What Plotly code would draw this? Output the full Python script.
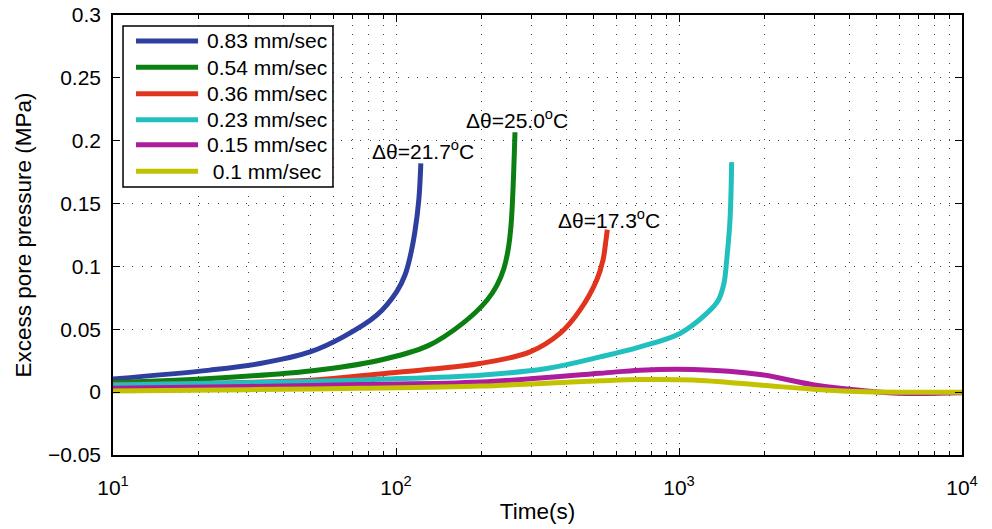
import math
import plotly.graph_objects as go

# ---- data ----
series_names = ["0.83 mm/sec", "0.54 mm/sec", "0.36 mm/sec", "0.23 mm/sec", "0.15 mm/sec", "\u00a00.1 mm/sec"]
series_colors = ["#2f3f9f", "#0b7f12", "#e0341f", "#22bfbf", "#ad1c9c", "#c2c200"]

t_083 = [10, 22, 33.1, 49.7, 65.1, 85.5, 100.6, 107.5, 112, 116.5, 120.4, 122.4]
p_083 = [0.0105, 0.0175, 0.0228, 0.032, 0.044, 0.0612, 0.080, 0.093, 0.107, 0.127, 0.153, 0.182]

t_054 = [10, 22, 49.7, 86, 130, 172.5, 209.7, 227.5, 240.7, 248.8, 255, 259, 263.3]
p_054 = [0.0077, 0.0109, 0.0169, 0.025, 0.037, 0.0549, 0.0731, 0.0851, 0.0986, 0.1129, 0.1328, 0.1606, 0.2067]

t_036 = [10, 49.7, 87.8, 128.4, 198, 297.5, 379.7, 446.7, 511.6, 538.8, 552, 558]
p_036 = [0.0062, 0.0095, 0.0145, 0.018, 0.0228, 0.032, 0.0467, 0.0652, 0.089, 0.105, 0.121, 0.1293]

t_023 = [10, 40, 88, 198, 340.6, 525.8, 727.8, 1008, 1253, 1377, 1442, 1474, 1514, 1535]
p_023 = [0.0056, 0.008, 0.0102, 0.0135, 0.0188, 0.028, 0.036, 0.0467, 0.0626, 0.0731, 0.0867, 0.105, 0.1367, 0.183]

t_015 = [10, 30, 75, 200, 525, 728, 1120, 1932, 2970, 4610, 6400, 10000]
p_015 = [0.003, 0.0045, 0.006, 0.008, 0.015, 0.0175, 0.018, 0.014, 0.006, 0.001, -0.001, -0.0005]

t_010 = [10, 30, 75, 200, 525, 728, 1120, 1932, 2970, 4610, 10000]
p_010 = [0.001, 0.002, 0.003, 0.0048, 0.009, 0.010, 0.0096, 0.0056, 0.0024, 0.0003, 0.0]

all_t = [t_083, t_054, t_036, t_023, t_015, t_010]
all_p = [p_083, p_054, p_036, p_023, p_015, p_010]

label_texts = ["Δθ=21.7<sup>o</sup>C", "Δθ=25.0<sup>o</sup>C", "Δθ=17.3<sup>o</sup>C"]
label_t = [124.5, 268.5, 568]
label_p = [0.193, 0.217, 0.138]

x_tickvals = [10, 100, 1000, 10000]
x_ticktext = ["10<sup>1</sup>", "10<sup>2</sup>", "10<sup>3</sup>", "10<sup>4</sup>"]
x_minorvals = [m * 10 ** k for k in (1, 2, 3) for m in range(2, 10)]
y_tickvals = [-0.05, 0, 0.05, 0.1, 0.15, 0.2, 0.25, 0.3]
y_ticktext = ["−0.05", "0", "0.05", "0.1", "0.15", "0.2", "0.25", "0.3"]

FONT = "Liberation Sans, Arial, Helvetica, sans-serif"
GRID_DASH = "1px,8.5px"
GRID_COLOR = "#444444"

fig = go.Figure()
for name, col, tt, pp in zip(series_names, series_colors, all_t, all_p):
    fig.add_trace(go.Scatter(x=tt, y=pp, mode="lines", name=name, showlegend=False,
                             line=dict(color=col, width=5, shape="spline", smoothing=1.0)))

for txt, tx, py in zip(label_texts, label_t, label_p):
    fig.add_annotation(x=math.log10(tx), y=py, xref="x", yref="y", text=txt, showarrow=False,
                       font=dict(size=21, color="black", family=FONT), xanchor="center", yanchor="middle")

# ---- legend box (MATLAB style, placed in paper coordinates) ----
leg_x0, leg_x1, leg_y0, leg_y1 = 0.0118, 0.2591, 0.6091, 0.975
leg_line_x0, leg_line_x1, leg_text_x = 0.0271, 0.1002, 0.1085
leg_row_y = [0.941, 0.881, 0.821, 0.762, 0.705, 0.645]
fig.add_shape(type="rect", xref="paper", yref="paper", x0=leg_x0, x1=leg_x1, y0=leg_y0, y1=leg_y1,
              line=dict(color="black", width=1.5), fillcolor="white", layer="above")
for name, col, ry in zip(series_names, series_colors, leg_row_y):
    fig.add_shape(type="line", xref="paper", yref="paper", x0=leg_line_x0, x1=leg_line_x1, y0=ry, y1=ry,
                  line=dict(color=col, width=5), layer="above")
    fig.add_annotation(x=leg_text_x, y=ry, xref="paper", yref="paper", text=name, showarrow=False,
                       xanchor="left", yanchor="middle", font=dict(size=21, color="black", family=FONT))

fig.update_layout(
    width=992, height=529,
    margin=dict(l=113, r=30, t=15, b=74),
    paper_bgcolor="white", plot_bgcolor="white",
    font=dict(family=FONT, size=21, color="black"),
    showlegend=False,
    xaxis=dict(type="log", range=[1, 4], tickvals=x_tickvals, ticktext=x_ticktext, automargin=False,
               ticks="inside", ticklen=7, tickcolor="black", showline=True, linecolor="black",
               linewidth=1.5, mirror="ticks", showgrid=True, gridcolor=GRID_COLOR, griddash=GRID_DASH,
               gridwidth=1, zeroline=False, ticklabelstandoff=13,
               minor=dict(tickvals=x_minorvals, ticks="inside", ticklen=4, tickcolor="black", showgrid=True,
                          gridcolor=GRID_COLOR, griddash=GRID_DASH, gridwidth=1),
               title=dict(text="Time(s)", font=dict(size=22.5), standoff=5),
               tickfont=dict(size=21)),
    yaxis=dict(range=[-0.05, 0.3], tickvals=y_tickvals, ticktext=y_ticktext, automargin=False,
               ticks="inside", ticklen=7, tickcolor="black", showline=True, linecolor="black",
               linewidth=1.5, mirror="ticks", showgrid=True, gridcolor=GRID_COLOR, griddash=GRID_DASH,
               gridwidth=1, zeroline=False, ticklabelstandoff=6,
               title=dict(text="Excess pore pressure (MPa)", font=dict(size=22.5), standoff=10),
               tickfont=dict(size=21)),
)

fig.write_html("out.html")
